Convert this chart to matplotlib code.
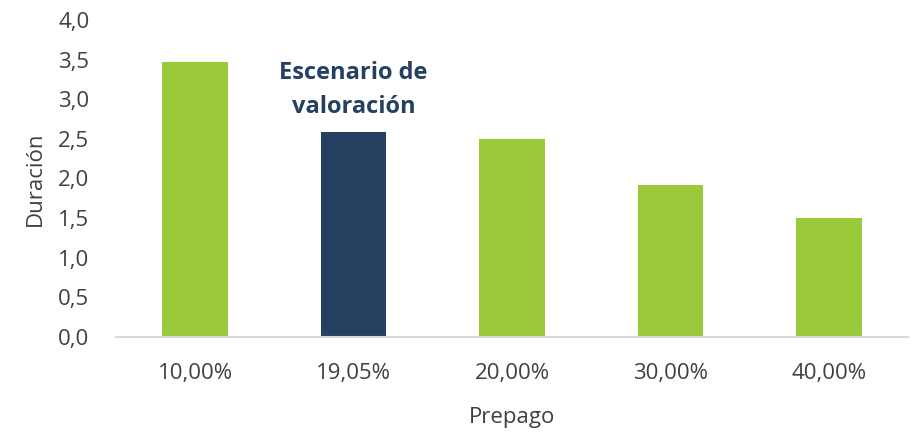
import matplotlib
matplotlib.use("Agg")
import matplotlib.pyplot as plt
from matplotlib.ticker import FuncFormatter

plt.rcParams['font.family'] = ['Open Sans', 'DejaVu Sans']

categorias = ["10,00%", "19,05%", "20,00%", "30,00%", "40,00%"]
duracion = [3.47, 2.58, 2.50, 1.92, 1.50]
colores = ["#9ACA3C", "#264061", "#9ACA3C", "#9ACA3C", "#9ACA3C"]
escenario = 1  # indice de la barra destacada

gris = "#404040"

fig = plt.figure(figsize=(9.12, 4.32), dpi=100)
ax = fig.add_axes([0.127, 0.22, 0.869, 0.734])

x = range(len(categorias))
ax.bar(x, duracion, width=0.415, color=colores, zorder=2)

ax.set_xlim(-0.5, len(categorias) - 0.5)
ax.set_ylim(0, 4.0)
ax.set_yticks([i * 0.5 for i in range(9)])
ax.yaxis.set_major_formatter(FuncFormatter(lambda v, p: f"{v:.1f}".replace(".", ",")))
ax.set_xticks(list(x))
ax.set_xticklabels(categorias)

ax.tick_params(axis='both', length=0, labelsize=16, colors=gris)
ax.tick_params(axis='y', pad=19)
ax.tick_params(axis='x', pad=19)

for s in ["top", "right", "left"]:
    ax.spines[s].set_visible(False)
ax.spines["bottom"].set_color("#D9D9D9")
ax.spines["bottom"].set_linewidth(1.5)

ax.set_ylabel("Duración", fontsize=16, color=gris, labelpad=9)
ax.set_xlabel("Prepago", fontsize=16, color=gris, labelpad=16)

ax.annotate("Escenario de\nvaloración", xy=(escenario, duracion[escenario]),
            xytext=(0, 10), textcoords="offset points", ha="center", va="bottom",
            fontsize=17, fontweight="bold", color="#264061", linespacing=1.55)

fig.savefig("out.png", dpi=100)
